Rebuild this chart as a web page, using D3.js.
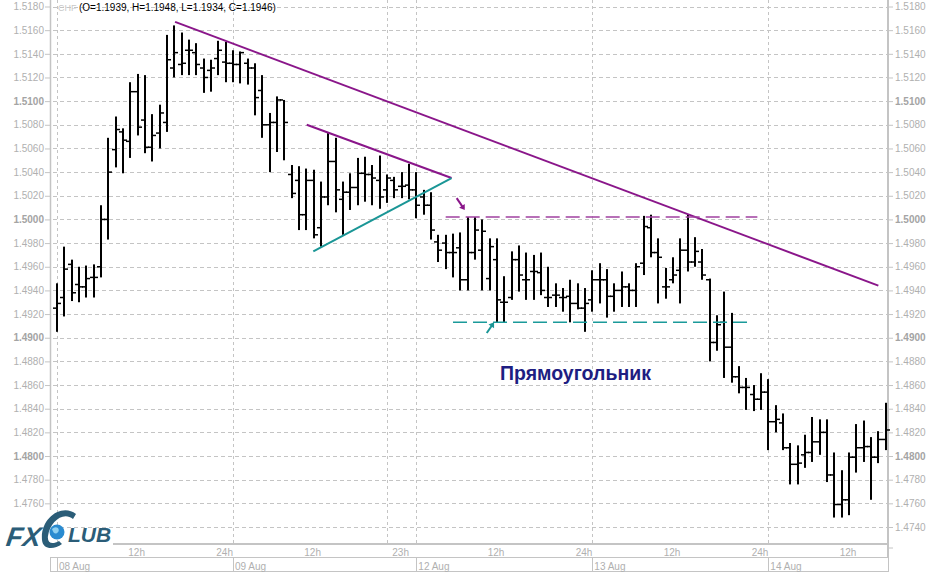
<!DOCTYPE html>
<html><head><meta charset="utf-8">
<script src="https://cdn.jsdelivr.net/npm/d3@7"></script>
<style>
body{margin:0;background:#fff}
svg{display:block}
text{font-family:Arial,"Liberation Sans",sans-serif}
</style>
</head><body>
<svg id="chart" width="940" height="573"></svg>
<script>
// ---------- DATA ----------
const opens = [1.4925,1.4934,1.4962,1.4945,1.4943,1.4951,1.4960,1.5000,1.5059,1.5074,
1.5066,1.5108,1.5084,1.5061,1.5073,1.5082,1.5128,1.5131,1.5143,1.5141,
1.5128,1.5126,1.5136,1.5133,1.5132,1.5131,1.5132,1.5128,1.5109,1.5080,
1.5082,1.5101,1.5038,1.5033,1.5004,1.5033,1.4993,1.5019,1.5049,1.5017,
1.5023,1.5027,1.5039,1.5038,1.5033,1.5025,1.5033,1.5028,1.5029,1.5025,
1.5019,1.5012,1.4981,1.4980,1.4972,1.4976,1.4949,1.4972,1.4974,1.4950,
1.4966,1.4930,1.4934,1.4966,1.4949,1.4956,1.4955,1.4934,1.4936,1.4934,
1.4935,1.4929,1.4925,1.4932,1.4949,1.4949,1.4935,1.4940,1.4943,1.4940,
1.4963,1.4993,1.4972,1.4943,1.4949,1.4957,1.4974,1.4964,1.4964,1.4949,
1.4896,1.4913,1.4892,1.4867,1.4858,1.4852,1.4848,1.4854,1.4829,1.4828,
1.4807,1.4793,1.4801,1.4803,1.4812,1.4820,1.4784,1.4759,1.4763,1.4799,
1.4807,1.4808,1.4799,1.4814];
const highs = [1.4946,1.4977,1.4966,1.4960,1.4961,1.4962,1.5012,1.5069,1.5087,1.5077,
1.5116,1.5123,1.5122,1.5089,1.5097,1.5156,1.5164,1.5158,1.5152,1.5149,
1.5136,1.5135,1.5151,1.5150,1.5143,1.5142,1.5136,1.5132,1.5122,1.5090,
1.5104,1.5101,1.5046,1.5045,1.5043,1.5042,1.5032,1.5073,1.5069,1.5032,
1.5039,1.5052,1.5053,1.5046,1.5054,1.5038,1.5036,1.5040,1.5047,1.5040,
1.5025,1.5023,1.4987,1.4987,1.4988,1.4989,1.5002,1.5002,1.5000,1.4984,
1.4984,1.4952,1.4973,1.4978,1.4972,1.4970,1.4972,1.4960,1.4946,1.4942,
1.4949,1.4946,1.4942,1.4957,1.4963,1.4958,1.4946,1.4956,1.4946,1.4963,
1.5003,1.5004,1.4984,1.4959,1.4968,1.4984,1.5004,1.4985,1.4975,1.4950,
1.4919,1.4939,1.4921,1.4876,1.4866,1.4860,1.4870,1.4865,1.4843,1.4836,
1.4811,1.4809,1.4818,1.4833,1.4831,1.4831,1.4803,1.4788,1.4803,1.4827,
1.4830,1.4816,1.4821,1.4845];
const lows = [1.4905,1.4918,1.4931,1.4930,1.4934,1.4934,1.4951,1.4983,1.5044,1.5039,
1.5052,1.5071,1.5056,1.5049,1.5060,1.5074,1.5120,1.5122,1.5122,1.5122,
1.5107,1.5108,1.5122,1.5116,1.5116,1.5115,1.5114,1.5088,1.5069,1.5040,
1.5057,1.5050,1.5018,1.4991,1.4991,1.4984,1.4977,1.5012,1.5006,1.4987,
1.5008,1.5012,1.5015,1.5012,1.5009,1.5014,1.5018,1.5018,1.5017,1.5001,
1.5004,1.4983,1.4964,1.4958,1.4951,1.4940,1.4940,1.4966,1.4940,1.4940,
1.4913,1.4913,1.4932,1.4939,1.4932,1.4932,1.4936,1.4926,1.4926,1.4922,
1.4913,1.4924,1.4905,1.4922,1.4929,1.4917,1.4922,1.4926,1.4926,1.4926,
1.4953,1.4968,1.4929,1.4933,1.4946,1.4929,1.4956,1.4960,1.4949,1.4880,
1.4889,1.4866,1.4862,1.4853,1.4839,1.4838,1.4839,1.4805,1.4820,1.4805,
1.4776,1.4776,1.4790,1.4795,1.4801,1.4778,1.4748,1.4748,1.4750,1.4786,
1.4795,1.4763,1.4794,1.4805];
const closes = [1.4929,1.4958,1.4938,1.4943,1.4950,1.4951,1.5000,1.5040,1.5076,1.5067,
1.5108,1.5078,1.5061,1.5071,1.5090,1.5135,1.5141,1.5132,1.5143,1.5131,
1.5120,1.5128,1.5143,1.5132,1.5131,1.5141,1.5128,1.5103,1.5080,1.5082,
1.5101,1.5082,1.5022,1.5004,1.5033,1.4987,1.5019,1.5049,1.5025,1.5023,
1.5027,1.5039,1.5038,1.5035,1.5019,1.5035,1.5025,1.5028,1.5025,1.5012,
1.5012,1.4991,1.4974,1.4972,1.4972,1.4949,1.4972,1.4991,1.4990,1.4977,
1.4932,1.4930,1.4966,1.4953,1.4949,1.4956,1.4940,1.4934,1.4936,1.4934,
1.4929,1.4925,1.4929,1.4949,1.4949,1.4935,1.4940,1.4943,1.4940,1.4960,
1.4994,1.4972,1.4968,1.4943,1.4953,1.4974,1.4964,1.4973,1.4953,1.4896,
1.4911,1.4892,1.4867,1.4858,1.4858,1.4848,1.4854,1.4829,1.4831,1.4807,
1.4793,1.4794,1.4803,1.4812,1.4820,1.4784,1.4759,1.4763,1.4799,1.4807,
1.4808,1.4799,1.4814,1.4822];

const priceTicks = [1.5180,1.5160,1.5140,1.5120,1.5100,1.5080,1.5060,1.5040,1.5020,1.5000,
1.4980,1.4960,1.4940,1.4920,1.4900,1.4880,1.4860,1.4840,1.4820,1.4800,1.4780,1.4760,1.4740];
const boldTicks = [1.5100,1.5000,1.4900,1.4800];
const hourTickIdx = [12,24,36,48,61,73,85,97,109];
const hourTickLabels = ["12h","24h","12h","23h","12h","24h","12h","24h","12h"];
const dayStartIdx = [0,24,49,73,97];
const dayLabels = ["08 Aug","09 Aug","12 Aug","13 Aug","14 Aug"];
const vGridIdx = [0,24,45,49,73,97];

// annotations (bar index, price)
const trendMain = [[16.1,1.5167],[112.0,1.4944]];
const triUpper = [[34.05,1.5080],[53.8,1.5035]];
const triLower = [[34.95,1.4973],[53.8,1.5035]];
const resistance = [[53.0,1.5002],[95.5,1.5002]];
const support = [[54.0,1.4913],[94.8,1.4913]];
const arrowDown = [[54.5,1.5018],[55.6,1.5008]];
const arrowUp = [[58.6,1.4904],[59.6,1.4913]];
const headerSym = "CHF";
const headerText = "(O=1.1939, H=1.1948, L=1.1934, C=1.1946)";
const patternLabel = "Прямоугольник";

// ---------- DRAW ----------
const svg = d3.select("#chart");
const L = 50, R = 888, B = 544;
const x = d3.scaleLinear().domain([0,113]).range([57, 885.7]);
const y = d3.scaleLinear().domain([1.4740,1.5180]).range([527,6.5]);
const gray = "#c4c4c4", lbl = "#b0b0b0";
const purple = "#8a168a", teal = "#1a9696";

// horizontal grid
svg.append("g").selectAll("line").data(priceTicks).join("line")
  .attr("x1", L+3).attr("x2", R).attr("y1", d=>Math.round(y(d))+0.5).attr("y2", d=>Math.round(y(d))+0.5)
  .attr("stroke", gray).attr("stroke-width",1).attr("stroke-dasharray","4,3");
// vertical grid
svg.append("g").selectAll("line").data(vGridIdx).join("line")
  .attr("x1", d=>Math.round(x(d))+0.5).attr("x2", d=>Math.round(x(d))+0.5).attr("y1",0).attr("y2",B)
  .attr("stroke", gray).attr("stroke-width",1).attr("stroke-dasharray","3,3");

// left & right axes
const yAxisL = d3.axisLeft(y).tickValues(priceTicks).tickSize(5).tickFormat(d3.format(".4f"));
const gL = svg.append("g").attr("transform",`translate(${L},0)`).call(yAxisL);
const yAxisR = d3.axisRight(y).tickValues(priceTicks).tickSize(5).tickFormat(d3.format(".4f"));
const gR = svg.append("g").attr("transform",`translate(${R},0)`).call(yAxisR);
[gL,gR].forEach(g=>{
  g.select(".domain").remove();
  g.selectAll(".tick line").attr("stroke",gray);
  g.selectAll(".tick text").attr("font-size",10)
    .attr("font-family","Arial, 'Liberation Sans', sans-serif")
    .attr("font-weight", d=>boldTicks.some(b=>Math.abs(b-d)<1e-6)?"bold":"normal")
    .attr("fill", d=>boldTicks.some(b=>Math.abs(b-d)<1e-6)?"#a4a4a4":lbl);
});
gL.selectAll(".tick text").attr("x",-6);
gR.selectAll(".tick text").attr("x",7);

// frame
svg.append("line").attr("x1",L+0.5).attr("x2",L+0.5).attr("y1",0).attr("y2",510).attr("stroke",gray).attr("stroke-width",1.5);
svg.append("line").attr("x1",R).attr("x2",R).attr("y1",0).attr("y2",558).attr("stroke",gray).attr("stroke-width",2);
svg.append("line").attr("x1",113).attr("x2",R+1).attr("y1",B).attr("y2",B).attr("stroke",gray).attr("stroke-width",2);
svg.append("line").attr("x1",R).attr("x2",R+5).attr("y1",548).attr("y2",548).attr("stroke",gray).attr("stroke-width",1);

// hour labels
svg.append("g").selectAll("text").data(hourTickIdx).join("text")
  .attr("x", d=>x(d)).attr("y",556).attr("text-anchor","end")
  .attr("font-size",10).attr("fill",lbl).text((d,i)=>hourTickLabels[i]);
// date row
svg.append("rect").attr("x",L+0.5).attr("y",557.5).attr("width",R-L).attr("height",14)
  .attr("fill","none").attr("stroke",gray).attr("stroke-width",1);
svg.append("g").selectAll("line").data(dayStartIdx).join("line")
  .attr("x1",d=>Math.round(x(d))+0.5).attr("x2",d=>Math.round(x(d))+0.5).attr("y1",557).attr("y2",572)
  .attr("stroke",gray);
svg.append("g").selectAll("text").data(dayStartIdx).join("text")
  .attr("x", d=>x(d)+2).attr("y",569.5).attr("font-size",10).attr("fill",lbl).text((d,i)=>dayLabels[i]);

// header
svg.append("text").attr("x",58).attr("y",11).attr("font-size",9).attr("fill","#c8c8c8").text(headerSym);
svg.append("text").attr("x",79).attr("y",11).attr("font-size",10).attr("fill","#000").text(headerText);

// OHLC bars
const bars = svg.append("g");
const idx = d3.range(opens.length);
bars.selectAll("rect.hl").data(idx).join("rect")
  .attr("x", i=>Math.round(x(i))-1).attr("width",2)
  .attr("y", i=>y(highs[i])).attr("height", i=>y(lows[i])-y(highs[i])).attr("fill","#000");
bars.selectAll("rect.o").data(idx).join("rect")
  .attr("x", i=>Math.round(x(i))-4).attr("width",3)
  .attr("y", i=>y(opens[i])-0.75).attr("height",1.5).attr("fill","#000");
bars.selectAll("rect.c").data(idx).join("rect")
  .attr("x", i=>Math.round(x(i))+1).attr("width",3)
  .attr("y", i=>y(closes[i])-0.75).attr("height",1.5).attr("fill","#000");

// annotations
const line = d3.line().x(d=>x(d[0])).y(d=>y(d[1]));
svg.append("path").attr("d",line(trendMain)).attr("stroke",purple).attr("stroke-width",2).attr("fill","none");
svg.append("path").attr("d",line(triUpper)).attr("stroke",purple).attr("stroke-width",2).attr("fill","none");
svg.append("path").attr("d",line(triLower)).attr("stroke",teal).attr("stroke-width",2).attr("fill","none");
svg.append("path").attr("d",line(resistance)).attr("stroke","#a040a0").attr("stroke-width",1.5).attr("stroke-dasharray","14,6").attr("fill","none");
svg.append("path").attr("d",line(support)).attr("stroke","#1a9a9a").attr("stroke-width",1.5).attr("stroke-dasharray","14,6").attr("fill","none");

function arrow(pts, color){
  const x0=x(pts[0][0]), y0=y(pts[0][1]), x1=x(pts[1][0]), y1=y(pts[1][1]);
  const a=Math.atan2(y1-y0,x1-x0), h=6, w=0.6;
  svg.append("line").attr("x1",x0).attr("y1",y0).attr("x2",x1-Math.cos(a)*2).attr("y2",y1-Math.sin(a)*2)
    .attr("stroke",color).attr("stroke-width",2);
  const p=[[x1,y1],[x1-h*Math.cos(a-w),y1-h*Math.sin(a-w)],[x1-h*Math.cos(a+w),y1-h*Math.sin(a+w)]];
  svg.append("path").attr("d","M"+p.join("L")+"Z").attr("fill",color);
}
arrow(arrowDown, purple);
arrow(arrowUp, teal);

svg.append("text").attr("x",500).attr("y",380).attr("font-size",19.5).attr("font-weight","bold")
  .attr("fill","#1e1e82").text(patternLabel);

// logo (covers the lowest left label, as in the reference)
const logo = svg.append("g");
logo.append("rect").attr("x",0).attr("y",512).attr("width",L+1).attr("height",34).attr("fill","#fff");
logo.append("text").attr("x",3).attr("y",546).attr("font-size",27).attr("font-weight","bold")
  .attr("font-style","italic").attr("fill","#2b5d78").attr("font-family","Arial, sans-serif")
  .attr("transform","skewX(-8) translate(79,0)").text("FX");
logo.append("path").attr("d","M76 514 C62 503, 40 518, 42 540 C43 550, 54 550, 62 544 L59 541 C52 545, 47 543, 48 536 C50 522, 63 511, 73 519 Z")
  .attr("fill","#2b5d78");
logo.append("circle").attr("cx",57).attr("cy",532).attr("r",7.5).attr("fill","#2a8bd0");
logo.append("path").attr("d","M52 529 q3 -3 6 -1 q2 3 -1 5 q-3 2 -5 -4Z").attr("fill","#8fd0f0");
logo.append("text").attr("x",68).attr("y",542).attr("font-size",21).attr("font-weight","bold")
  .attr("font-style","italic").attr("fill","#2b5d78").attr("font-family","Arial, sans-serif").text("LUB");
</script>
</body></html>
